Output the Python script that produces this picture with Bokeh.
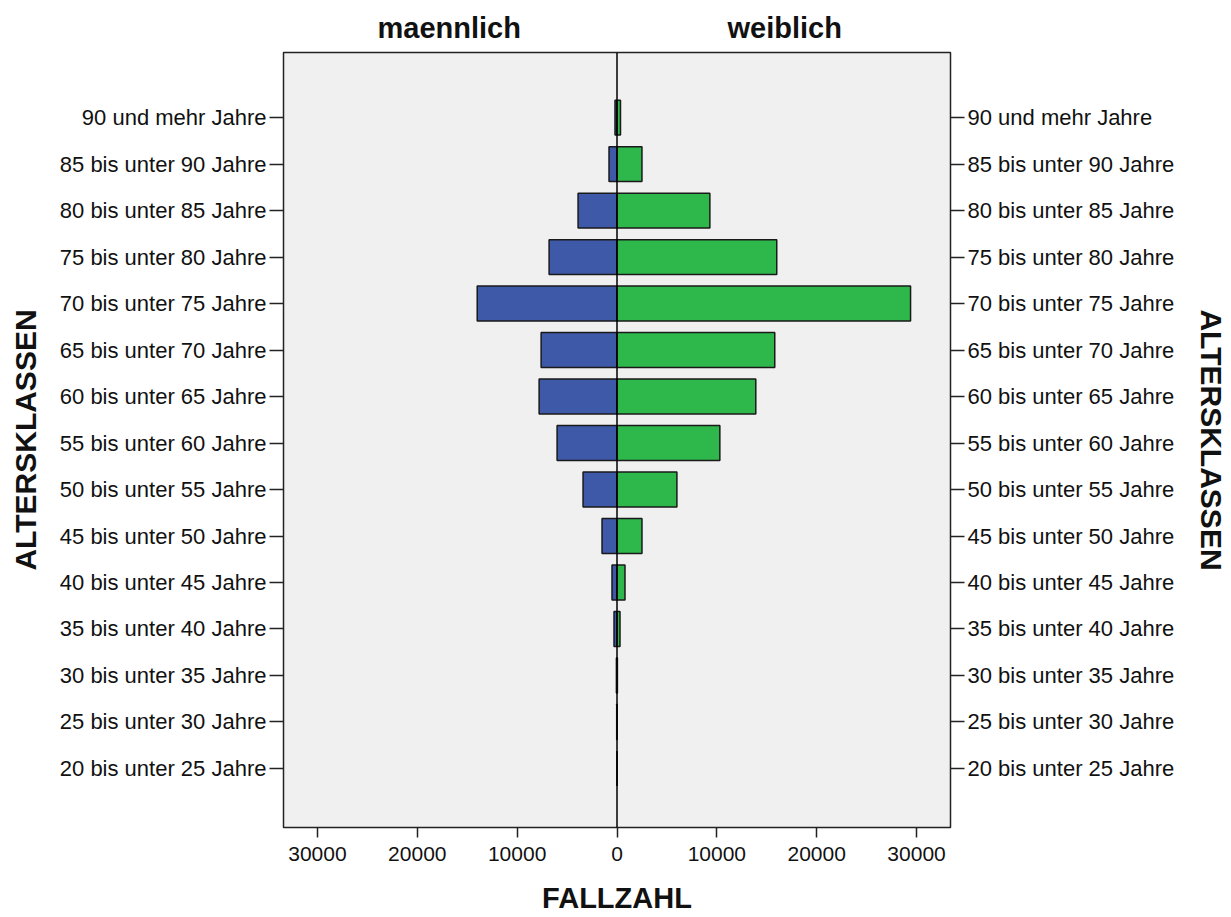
from bokeh.plotting import figure
from bokeh.models import LinearAxis, FixedTicker, Range1d, Span, ColumnDataSource
from bokeh.embed import file_html
from bokeh.resources import INLINE

categories = [
    "20 bis unter 25 Jahre", "25 bis unter 30 Jahre", "30 bis unter 35 Jahre",
    "35 bis unter 40 Jahre", "40 bis unter 45 Jahre", "45 bis unter 50 Jahre",
    "50 bis unter 55 Jahre", "55 bis unter 60 Jahre", "60 bis unter 65 Jahre",
    "65 bis unter 70 Jahre", "70 bis unter 75 Jahre", "75 bis unter 80 Jahre",
    "80 bis unter 85 Jahre", "85 bis unter 90 Jahre", "90 und mehr Jahre",
]
maennlich = [0, 30, 60, 300, 500, 1500, 3400, 6000, 7800, 7600, 14000, 6800, 3900, 800, 200]
weiblich = [0, 20, 40, 300, 800, 2500, 6000, 10300, 13900, 15800, 29400, 16000, 9300, 2500, 350]
x_ticks = [-30000, -20000, -10000, 0, 10000, 20000, 30000]
group_labels = ["maennlich", "weiblich"]

FONT = "Liberation Sans"
pos = list(range(len(categories)))
src = ColumnDataSource(dict(
    y=pos,
    m_left=[-v for v in maennlich],
    w_right=weiblich,
))

p = figure(width=1231, height=917, output_backend="svg", toolbar_location=None,
           x_range=Range1d(-33400, 33400), y_range=Range1d(-1.27, 15.4),
           y_axis_location=None, x_axis_location=None,
           min_border_left=283, min_border_right=277, min_border_top=52,
           min_border_bottom=90)
p.background_fill_color = "#F0F0F0"
p.border_fill_color = "white"
p.outline_line_color = "#222222"
p.outline_line_width = 1.5
p.xgrid.visible = False
p.ygrid.visible = False

p.hbar(y="y", left="m_left", right=0, height=0.75, source=src,
       fill_color="#3F59A9", line_color="#1a1a1a", line_width=1.5)
p.hbar(y="y", left=0, right="w_right", height=0.75, source=src,
       fill_color="#2EB84B", line_color="#1a1a1a", line_width=1.5)
p.add_layout(Span(location=0, dimension="height", line_color="black", line_width=1.5))

label_map = {i: c for i, c in enumerate(categories)}

def style_axis(ax, label_size="22px", title_size="30px"):
    ax.major_label_text_font = FONT
    ax.major_label_text_font_size = label_size
    ax.major_label_text_color = "#111111"
    ax.axis_label_text_font = FONT
    ax.axis_label_text_font_style = "bold"
    ax.axis_label_text_font_size = title_size
    ax.axis_label_text_color = "#111111"
    ax.axis_line_color = None
    ax.major_tick_line_color = "#222222"
    ax.major_tick_line_width = 1.5
    ax.minor_tick_line_color = None

for side, st in (("left", 15), ("right", 18)):
    ax = LinearAxis(ticker=FixedTicker(ticks=pos), axis_label="ALTERSKLASSEN")
    ax.major_label_overrides = label_map
    style_axis(ax)
    ax.major_tick_out = 14
    ax.major_tick_in = 0
    ax.major_label_standoff = 3
    ax.axis_label_standoff = st
    p.add_layout(ax, side)

bx = LinearAxis(ticker=FixedTicker(ticks=x_ticks), axis_label="FALLZAHL")
bx.major_label_overrides = {t: str(abs(t)) for t in x_ticks}
style_axis(bx, "21px", "29px")
bx.major_tick_out = 10
bx.major_tick_in = 0
bx.major_label_standoff = 9
bx.axis_label_standoff = 18
p.add_layout(bx, "below")

tx = LinearAxis(ticker=FixedTicker(ticks=[-16800, 16800]))
tx.major_label_overrides = {-16800: group_labels[0], 16800: group_labels[1]}
tx.major_label_text_font = FONT
tx.major_label_text_font_style = "bold"
tx.major_label_text_font_size = "29px"
tx.major_label_text_color = "#111111"
tx.axis_line_color = None
tx.major_tick_line_color = None
tx.minor_tick_line_color = None
tx.major_tick_out = 0
tx.major_label_standoff = 9
p.add_layout(tx, "above")

open("out.html", "w").write(file_html(p, INLINE))
